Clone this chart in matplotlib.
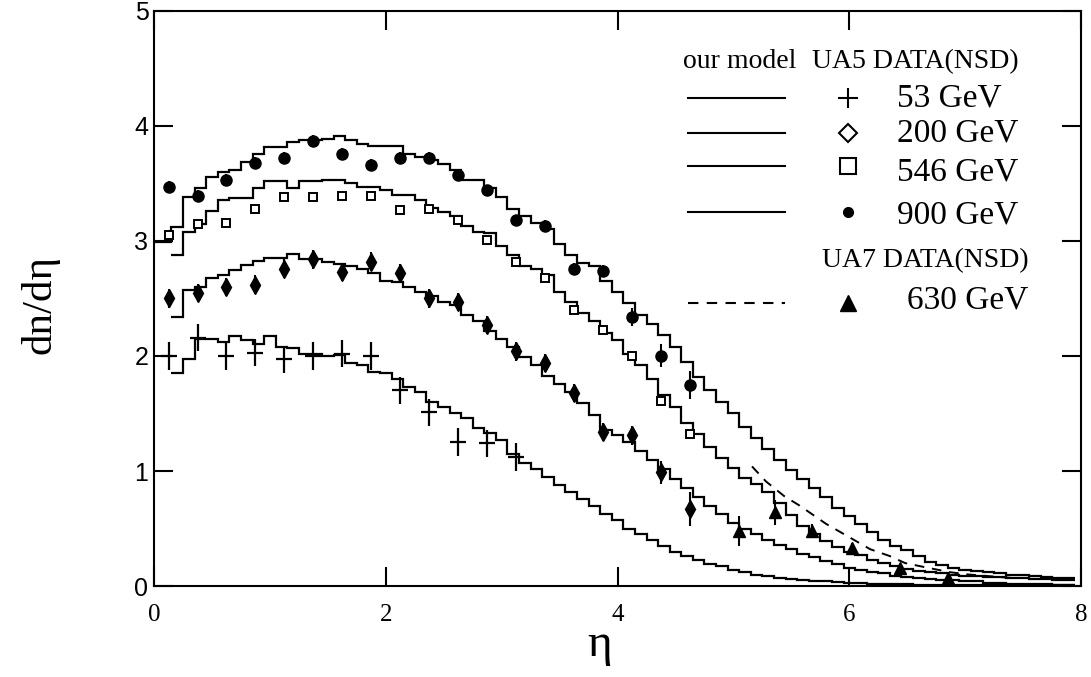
import numpy as np
import matplotlib
matplotlib.use("Agg")
import matplotlib.pyplot as plt

plt.rcParams['font.family'] = ['Liberation Serif', 'DejaVu Serif']

# model histograms (bin width 0.1)
m900_y = [2.99, 3.12, 3.38, 3.46, 3.56, 3.60, 3.62, 3.69, 3.76, 3.82,
          3.82, 3.86, 3.88, 3.88, 3.89, 3.91, 3.88, 3.84, 3.83, 3.83,
          3.83, 3.76, 3.73, 3.70, 3.67, 3.62, 3.53, 3.53, 3.46, 3.38,
          3.28, 3.22, 3.16, 3.10, 2.97, 2.88, 2.81, 2.78, 2.65, 2.56,
          2.46, 2.36, 2.28, 2.18, 2.08, 1.95, 1.82, 1.70, 1.60, 1.50,
          1.38, 1.29, 1.19, 1.10, 1.01, 0.93, 0.85, 0.77, 0.68, 0.61,
          0.54, 0.47, 0.40, 0.35, 0.31, 0.26, 0.21, 0.18, 0.16, 0.14,
          0.13, 0.12, 0.11, 0.10, 0.10, 0.09, 0.08, 0.07, 0.07]
m546_y = [2.88, 3.08, 3.15, 3.26, 3.36, 3.37, 3.37, 3.46, 3.52,
          3.52, 3.46, 3.52, 3.52, 3.53, 3.53, 3.50, 3.47, 3.47, 3.44,
          3.40, 3.40, 3.36, 3.29, 3.25, 3.22, 3.13, 3.08, 3.07, 2.96,
          2.88, 2.78, 2.76, 2.70, 2.56, 2.47, 2.37, 2.30, 2.20, 2.14,
          2.02, 1.92, 1.80, 1.66, 1.56, 1.42, 1.32, 1.21, 1.11, 1.03,
          0.94, 0.89, 0.82, 0.72, 0.62, 0.52, 0.45, 0.39, 0.34, 0.30,
          0.27, 0.23, 0.20, 0.17, 0.15, 0.13, 0.12, 0.11, 0.10, 0.09,
          0.09, 0.08, 0.08, 0.07, 0.07, 0.06, 0.06, 0.05, 0.05]
m200_y = [2.34, 2.57, 2.60, 2.68, 2.70, 2.75, 2.79, 2.83, 2.85,
          2.85, 2.89, 2.84, 2.84, 2.82, 2.80, 2.78, 2.76, 2.72, 2.65,
          2.64, 2.60, 2.56, 2.52, 2.47, 2.44, 2.36, 2.30, 2.22, 2.15,
          2.08, 1.99, 1.92, 1.83, 1.76, 1.69, 1.59, 1.49, 1.36, 1.31,
          1.25, 1.17, 1.10, 1.02, 0.93, 0.85, 0.77, 0.70, 0.63, 0.55,
          0.50, 0.45, 0.40, 0.36, 0.32, 0.28, 0.25, 0.22, 0.19, 0.16,
          0.14, 0.12, 0.11, 0.09, 0.08, 0.07, 0.06, 0.05, 0.05, 0.04,
          0.04, 0.03, 0.03, 0.02, 0.02, 0.02, 0.02, 0.01, 0.01]
m53_y = [1.85, 1.97, 2.15, 2.15, 2.12, 2.17, 2.14, 2.10, 2.17,
         2.08, 2.07, 2.02, 2.02, 2.00, 2.01, 1.94, 1.92, 1.86, 1.85,
         1.80, 1.73, 1.69, 1.60, 1.56, 1.50, 1.46, 1.37, 1.33, 1.27,
         1.15, 1.07, 1.02, 0.95, 0.88, 0.82, 0.76, 0.70, 0.63, 0.57,
         0.50, 0.45, 0.40, 0.35, 0.30, 0.26, 0.23, 0.19, 0.17, 0.14,
         0.12, 0.10, 0.085, 0.07, 0.06, 0.05, 0.045, 0.04, 0.035, 0.03,
         0.025, 0.02, 0.02, 0.015, 0.015, 0.01, 0.01, 0.01, 0.01, 0.01,
         0.005, 0.005, 0.005, 0.005, 0.005, 0.005, 0.005, 0.005, 0.005]

# 630 GeV model (dashed)
m630_x = [5.16, 5.28, 5.44, 5.57, 5.80, 5.99, 6.18, 6.35, 6.48, 6.67, 6.87, 7.03, 7.19, 7.40]
m630_y = [1.04, 0.91, 0.78, 0.70, 0.54, 0.43, 0.32, 0.26, 0.20, 0.16, 0.12, 0.10, 0.087, 0.07]

# UA5 data
data_x = [0.125, 0.375, 0.625, 0.875, 1.125, 1.375, 1.625, 1.875, 2.125, 2.375,
          2.625, 2.875, 3.125, 3.375, 3.625, 3.875, 4.125, 4.375, 4.625]
d900_y = [3.47, 3.39, 3.53, 3.68, 3.72, 3.87, 3.76, 3.66, 3.72, 3.72,
          3.57, 3.44, 3.18, 3.13, 2.76, 2.74, 2.34, 2.00, 1.75]
d900_e = [0.05] * 16 + [0.08, 0.10, 0.12]
d546_y = [3.05, 3.15, 3.16, 3.28, 3.38, 3.38, 3.39, 3.39, 3.27, 3.28,
          3.18, 3.01, 2.82, 2.68, 2.40, 2.23, 2.00, 1.61, 1.32]
d200_y = [2.50, 2.55, 2.60, 2.62, 2.76, 2.84, 2.73, 2.82, 2.72, 2.50,
          2.47, 2.27, 2.04, 1.94, 1.68, 1.34, 1.31, 0.99, 0.67]
d200_e = [0.08] * 17 + [0.10, 0.15]
d53_y = [2.00, 2.16, 2.00, 2.03, 1.97, 2.00, 2.02, 2.00, 1.70, 1.51, 1.25, 1.24, 1.12]
d53_e = [0.12] * 13

# UA7 data
d630_x = [5.05, 5.36, 5.68, 6.02, 6.44, 6.85]
d630_y = [0.48, 0.64, 0.48, 0.33, 0.16, 0.07]
d630_e = [0.13, 0.11, 0.06, 0.04, 0.03, 0.03]

fig = plt.figure(figsize=(10.91, 6.77), dpi=100)
ax = fig.add_axes([0.1412, 0.1344, 0.8497, 0.8494])

# bin edges: 0.1 wide, first 900 GeV bin runs from the axis
edges = np.round(np.arange(0.15, 7.96, 0.1), 2)
edges900 = np.concatenate([[0.0], edges])

lw = 1.6
ax.stairs(m900_y, edges900, baseline=None, color='k', lw=lw)
for m in (m546_y, m200_y, m53_y):
    ax.stairs(m, edges, baseline=None, color='k', lw=lw)
ax.plot(m630_x, m630_y, color='k', lw=1.4, ls=(0, (5, 4)))

ax.errorbar(data_x, d900_y, yerr=d900_e, fmt='o', color='k', ms=8, elinewidth=1.5, capsize=0)
ax.errorbar(data_x, d546_y, fmt='s', mfc='white', mec='k', ms=6, mew=1.4)
ax.errorbar(data_x, d200_y, yerr=d200_e, fmt='d', color='k', ms=9, elinewidth=1.5, capsize=0)
ax.errorbar(data_x[:len(d53_y)], d53_y, yerr=d53_e, fmt='_', color='k', ms=11, mew=1.6,
            elinewidth=1.6, capsize=0)
ax.errorbar(d630_x, d630_y, yerr=d630_e, fmt='^', color='k', ms=9, elinewidth=1.5, capsize=0)

ax.set_xlim(0, 8)
ax.set_ylim(0, 5)
ax.set_xticks([0, 2, 4, 6, 8])
ax.set_yticks([0, 1, 2, 3, 4, 5])
ax.tick_params(direction='in', length=14, width=1.5, top=True, right=True, labelsize=18)
ax.tick_params(axis='x', pad=13)
ax.tick_params(axis='y', pad=4)
for lab in ax.get_yticklabels():
    lab.set_family('Liberation Sans')
for sp in ax.spines.values():
    sp.set_linewidth(1.5)

fig.text(0.037, 0.55, 'dn/dη', rotation=90, ha='center', va='center', fontsize=31)
fig.text(0.55, 0.047, 'η', ha='center', va='center', fontsize=34)

# hand-made key
tr = ax.transAxes
ax.text(0.571, 0.900, 'our model', transform=tr, fontsize=20, va='baseline')
ax.text(0.710, 0.900, 'UA5 DATA(NSD)', transform=tr, fontsize=20, va='baseline')
ax.text(0.720, 0.555, 'UA7 DATA(NSD)', transform=tr, fontsize=20, va='baseline')

key_rows = [
    ('53 GeV', 0.848, 0.833, dict(marker='+', ms=14, mew=1.5, color='k'), '-'),
    ('200 GeV', 0.788, 0.773, dict(marker='D', ms=9, mew=1.5, mfc='white', mec='k'), '-'),
    ('546 GeV', 0.730, 0.706, dict(marker='s', ms=12, mew=1.5, mfc='white', mec='k'), '-'),
    ('900 GeV', 0.650, 0.631, dict(marker='o', ms=7, color='k'), '-'),
    ('630 GeV', 0.492, 0.483, dict(marker='^', ms=12, color='k'), '--'),
]
for label, ly, ty, mk, ls in key_rows:
    ax.plot([0.576, 0.681], [ly, ly], transform=tr, color='k', lw=1.5,
            ls=ls if ls == '-' else (0, (5, 4)))
    ax.plot([0.749], [ly], transform=tr, ls='none', **mk)
    ax.text(0.801 if label != '630 GeV' else 0.812, ty, label, transform=tr,
            fontsize=24, va='baseline')

fig.savefig('out.png', dpi=100)
